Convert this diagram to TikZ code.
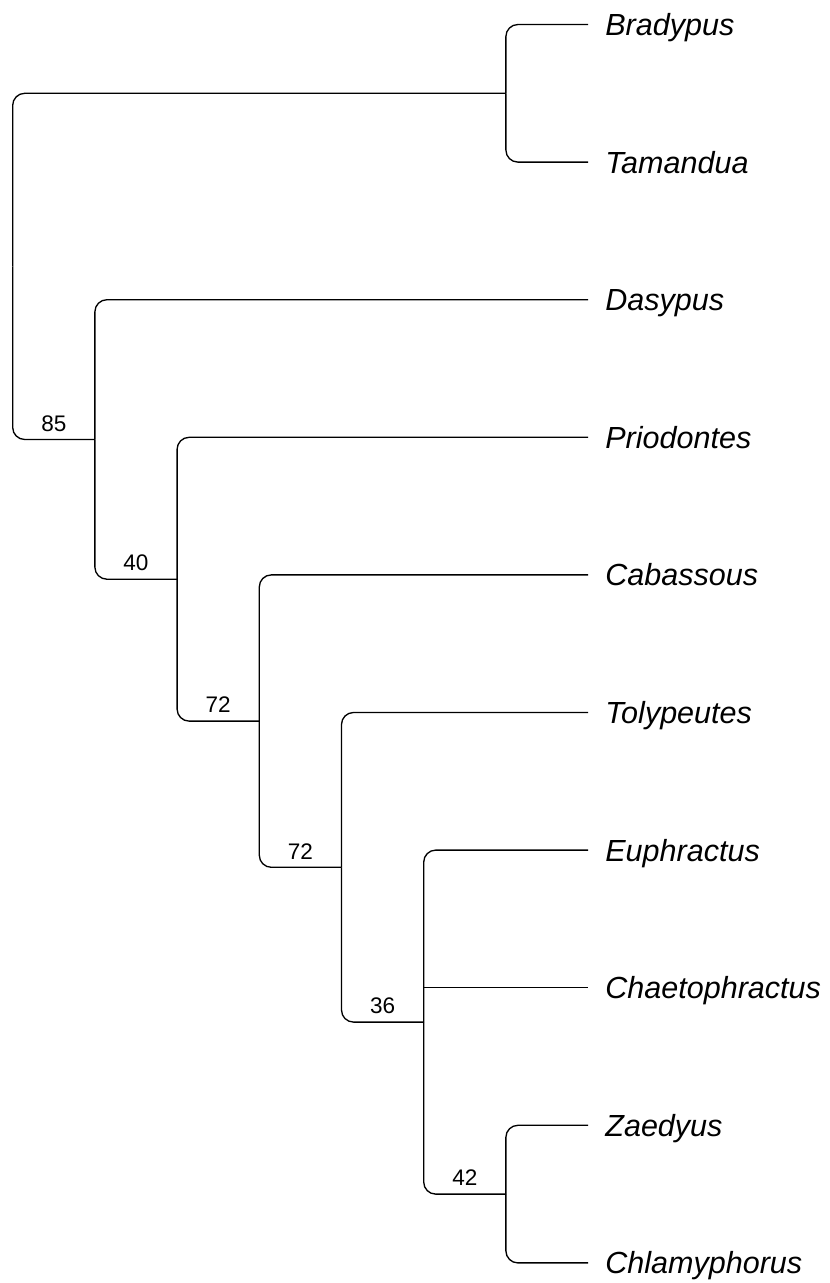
\documentclass[tikz,border=0pt]{standalone}
\usepackage{fontspec}
\setmainfont{Liberation Sans}
\usetikzlibrary{calc}

\tikzset{
	branch/.style={line width=1pt, rounded corners=9pt},
	taxon/.style={anchor=base west, inner sep=0pt, font=\fontsize{22.9}{27}\selectfont\itshape},
	boot/.style={anchor=south, inner sep=0pt, yshift=6pt, font=\fontsize{16.9}{20}\selectfont}
}

\begin{document}
	\begin{tikzpicture}[x=0.75pt, y=-0.75pt, line join=round, line cap=butt]
		\useasboundingbox (0,0) rectangle (830,1283);
		% tips
		\foreach \name/\lab [count=\i from 0] in {brad/Bradypus, tam/Tamandua, das/Dasypus,
			pri/Priodontes, cab/Cabassous, tol/Tolypeutes, eup/Euphractus,
			cha/Chaetophractus, zae/Zaedyus, chl/Chlamyphorus}{
			\coordinate (\name) at (588.1, 24.5+137.6*\i);
			\path (\name) ++(17,11) node[taxon] (lab-\name) {\lab};
		}
		% internal nodes
		\coordinate (root) at (12.7,266.4);
		\coordinate (xen)  at (505.9,93.3);
		\coordinate (cin)  at (94.9,439.5);
		\coordinate (pri2) at (177.1,579.2);
		\coordinate (cab2) at (259.3,721.1);
		\coordinate (tol2) at (341.5,867.3);
		\coordinate (eup2) at (423.7,1022.1);
		\coordinate (zae2) at (505.9,1194.1);
		% branches
		\draw[branch] (root) |- (xen);
		\draw[branch] (root) |- (cin);
		\draw[branch] (xen) |- (brad);
		\draw[branch] (xen) |- (tam);
		\draw[branch] (cin) |- (das);
		\draw[branch] (cin) |- (pri2);
		\draw[branch] (pri2) |- (pri);
		\draw[branch] (pri2) |- (cab2);
		\draw[branch] (cab2) |- (cab);
		\draw[branch] (cab2) |- (tol2);
		\draw[branch] (tol2) |- (tol);
		\draw[branch] (tol2) |- (eup2);
		\draw[branch] (eup2) |- (eup);
		\draw[branch] (eup2 |- cha) -- (cha);
		\draw[branch] (eup2) |- (zae2);
		\draw[branch] (zae2) |- (zae);
		\draw[branch] (zae2) |- (chl);
		% support values
		\path (root |- cin) -- (cin) node[midway, boot] {85};
		\path (cin |- pri2) -- (pri2) node[midway, boot] {40};
		\path (pri2 |- cab2) -- (cab2) node[midway, boot] {72};
		\path (cab2 |- tol2) -- (tol2) node[midway, boot] {72};
		\path (tol2 |- eup2) -- (eup2) node[midway, boot] {36};
		\path (eup2 |- zae2) -- (zae2) node[midway, boot] {42};
	\end{tikzpicture}
\end{document}
